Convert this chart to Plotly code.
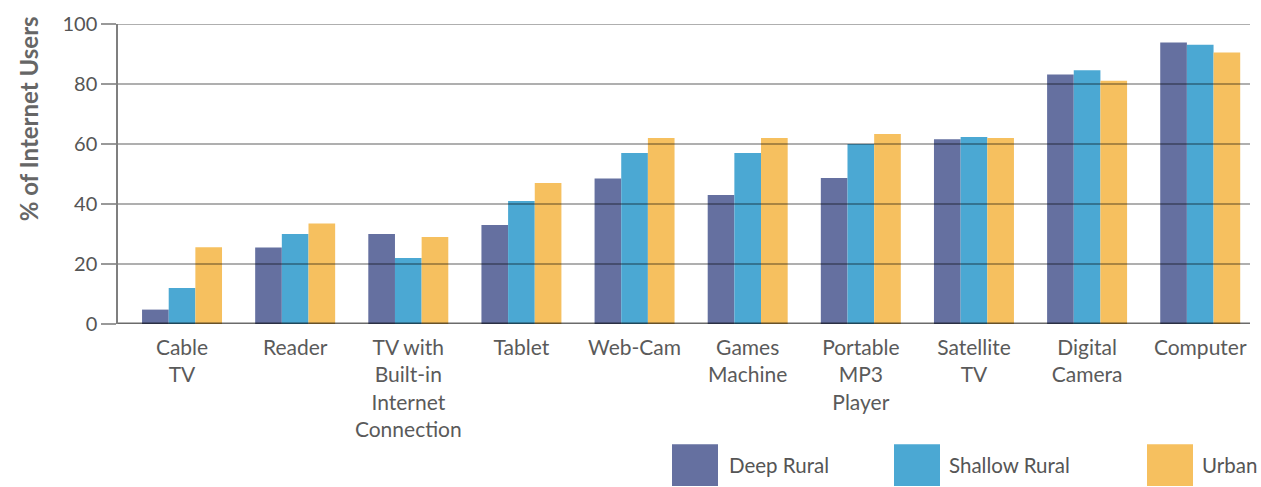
import plotly.graph_objects as go

categories = ["Cable<br>TV", "Reader", "TV with<br>Built-in<br>Internet<br>Connection", "Tablet",
              "Web-Cam", "Games<br>Machine", "Portable<br>MP3<br>Player", "Satellite<br>TV",
              "Digital<br>Camera", "Computer"]
series_names = ["Deep Rural", "Shallow Rural", "Urban"]
deep_rural = [4.8, 25.5, 30, 33, 48.5, 43, 48.7, 61.6, 83.2, 93.8]
shallow_rural = [12, 30, 22, 41, 57, 57, 60, 62.3, 84.6, 93.1]
urban = [25.6, 33.5, 29, 47, 62, 62, 63.3, 62, 81.1, 90.5]
y_ticks = [0, 20, 40, 60, 80, 100]
y_title = "% of Internet Users"

colors = ["#6570A0", "#4BA8D3", "#F6C05F"]
values = [deep_rural, shallow_rural, urban]

W, H = 1261, 487
L, R, T, B = 118, 11, 22, 163
pw, ph = W - L - R, H - T - B

def px_x(p):
    return (p - L) / pw

def px_y(p):
    return (H - B - p) / ph

fig = go.Figure()
for name, vals, c in zip(series_names, values, colors):
    fig.add_trace(go.Bar(x=categories, y=vals, name=name, marker=dict(color=c, line=dict(width=0)),
                         showlegend=False, hoverinfo="skip"))

shapes = []
for v in y_ticks:
    shapes.append(dict(type="line", xref="paper", yref="y", x0=0, x1=1, y0=v, y1=v,
                       line=dict(color="rgba(0,0,0,0.58)" if v == 0 else "rgba(0,0,0,0.42)",
                                 width=3 if v == 0 else 1.5),
                       layer="above"))

# legend
legend_pos = [(672, 727), (894, 947), (1147, 1200)]
annotations = []
for (sx, tx), name, c in zip(legend_pos, series_names, colors):
    shapes.append(dict(type="rect", xref="paper", yref="paper",
                       x0=px_x(sx), x1=px_x(sx + 46), y0=px_y(487), y1=px_y(445),
                       fillcolor=c, line=dict(width=0), layer="above"))
    annotations.append(dict(xref="paper", yref="paper", x=px_x(tx), y=px_y(466),
                            xanchor="left", yanchor="middle", text=name, showarrow=False,
                            font=dict(family="Lato", size=20.5, color="#555555")))

annotations.append(dict(xref="paper", yref="paper", x=px_x(28), y=px_y(118),
                        xanchor="center", yanchor="middle", textangle=-90,
                        text="<b>" + y_title + "</b>", showarrow=False,
                        font=dict(family="Lato", size=24, color="#666666")))

fig.update_layout(
    width=W, height=H,
    margin=dict(l=L, r=R, t=T, b=B, pad=0),
    paper_bgcolor="white", plot_bgcolor="white",
    barmode="group", bargap=0.293, bargroupgap=0,
    font=dict(family="Lato", size=20, color="#555555"),
    shapes=shapes, annotations=annotations,
    xaxis=dict(type="category", range=[-0.566, 9.44], showgrid=False, showline=False,
               zeroline=False, ticks="", tickfont=dict(family="Lato", size=21, color="#5a5a5a"),
               ticklabelstandoff=9),
    yaxis=dict(range=[0, 100], tickvals=y_ticks, showgrid=False, zeroline=False,
               showline=True, linecolor="rgba(0,0,0,0.5)", linewidth=1.5,
               ticks="outside", ticklen=15, tickwidth=1.5, tickcolor="rgba(0,0,0,0.4)",
               tickfont=dict(family="Lato", size=20, color="#555555")),
)

fig.write_html("out.html", config={"displayModeBar": False},
               post_script="document.body.style.margin='0';document.body.style.padding='0';")
